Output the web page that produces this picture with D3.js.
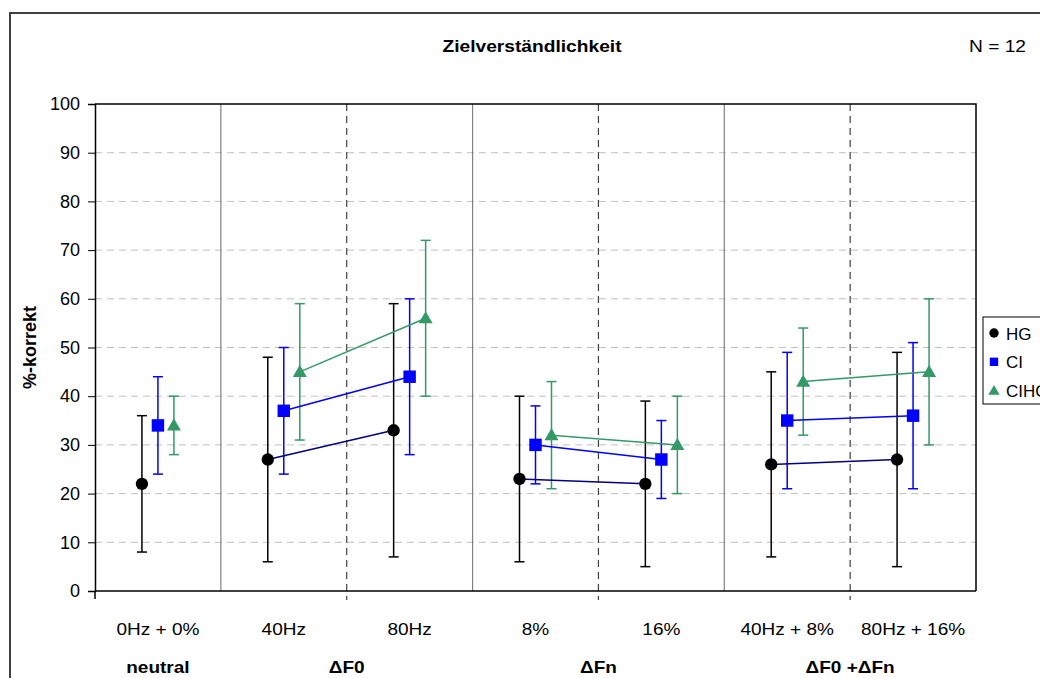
<!DOCTYPE html>
<html>
<head>
<meta charset="utf-8">
<script src="https://cdn.jsdelivr.net/npm/d3@7"></script>
<style>
  body { margin: 0; background: #fff; }
  svg { font-family: "Liberation Sans", Arial, sans-serif; }
</style>
</head>
<body>
<svg id="chart" width="1040" height="678"></svg>
<script>
// categories and group labels
const categories = ["0Hz + 0%", "40Hz", "80Hz", "8%", "16%", "40Hz + 8%", "80Hz + 16%"];
const groupNames = ["neutral", "\u0394F0", "\u0394Fn", "\u0394F0 +\u0394Fn"];
const groupMembers = [[0], [1, 2], [3, 4], [5, 6]];
const yTicks = [0, 10, 20, 30, 40, 50, 60, 70, 80, 90, 100];

// series values (mean, lower / upper end of error bar)
const seriesNames = ["HG", "CI", "CIHC"];
const hgMean = [22, 27, 33, 23, 22, 26, 27];
const hgLow  = [8, 6, 7, 6, 5, 7, 5];
const hgHigh = [36, 48, 59, 40, 39, 45, 49];
const ciMean = [34, 37, 44, 30, 27, 35, 36];
const ciLow  = [24, 24, 28, 22, 19, 21, 21];
const ciHigh = [44, 50, 60, 38, 35, 49, 51];
const cihcMean = [34, 45, 56, 32, 30, 43, 45];
const cihcLow  = [28, 31, 40, 21, 20, 32, 30];
const cihcHigh = [40, 59, 72, 43, 40, 54, 60];

const series = [
  {name: "HG", mean: hgMean, low: hgLow, high: hgHigh, color: "#000000", line: "#000080", bar: "#000000", shape: "circle"},
  {name: "CI", mean: ciMean, low: ciLow, high: ciHigh, color: "#0000ff", line: "#0000ff", bar: "#0000ff", shape: "square"},
  {name: "CIHC", mean: cihcMean, low: cihcLow, high: cihcHigh, color: "#339966", line: "#339966", bar: "#339966", shape: "triangle"}
];

const svg = d3.select("#chart");
const pLeft = 95, pRight = 976, pTop = 104, pBottom = 591;

const x = d3.scaleBand().domain(d3.range(categories.length)).range([pLeft, pRight]).padding(0);
const bw = x.bandwidth();
const cx = i => x(i) + bw / 2;
const off = d3.scalePoint().domain(seriesNames).range([-16, 16]);
const y = d3.scaleLinear().domain([0, 100]).range([pBottom, pTop]);

// outer frame
svg.append("rect")
  .attr("x", 10).attr("y", 13).attr("width", 1040).attr("height", 700)
  .attr("fill", "none").attr("stroke", "#404040").attr("stroke-width", 2);

// title (the original text is drawn a bit wide)
svg.append("text").attr("transform", "translate(532,52) scale(1.2,1)")
  .attr("text-anchor", "middle").attr("font-size", 16).attr("font-weight", "bold")
  .text("Zielverständlichkeit");
svg.append("text").attr("transform", "translate(1026,52) scale(1.2,1)")
  .attr("text-anchor", "end").attr("font-size", 16)
  .text("N = 12");

// gridlines
svg.append("g").selectAll("line")
  .data(yTicks.filter(t => t > 0 && t < 100))
  .join("line")
  .attr("x1", pLeft).attr("x2", pRight)
  .attr("y1", d => y(d)).attr("y2", d => y(d))
  .attr("stroke", "#c0c0c0").attr("stroke-dasharray", "7,5");

// group separators (solid) and sub-category separators (dashed)
const solidSeps = [1, 3, 5];
const dashSeps = [2, 4, 6];
svg.append("g").selectAll("line")
  .data(solidSeps).join("line")
  .attr("x1", d => x(d)).attr("x2", d => x(d))
  .attr("y1", pTop).attr("y2", pBottom)
  .attr("stroke", "#808080").attr("stroke-width", 1.2);
svg.append("g").selectAll("line")
  .data(dashSeps).join("line")
  .attr("x1", d => x(d)).attr("x2", d => x(d))
  .attr("y1", pTop).attr("y2", pBottom + 9)
  .attr("stroke", "#404040").attr("stroke-width", 1.2)
  .attr("stroke-dasharray", "7,5");

// plot border top/right
svg.append("path")
  .attr("d", `M${pLeft},${pTop}H${pRight}V${pBottom}`)
  .attr("fill", "none").attr("stroke", "#000").attr("stroke-width", 1.5);

// y axis
const yAxis = svg.append("g")
  .attr("transform", `translate(${pLeft},0)`)
  .call(d3.axisLeft(y).tickValues(yTicks).tickSize(7).tickPadding(8));
yAxis.select(".domain").attr("stroke", "#000").attr("stroke-width", 1.5);
yAxis.selectAll("text").attr("font-size", 18).attr("font-family", "Liberation Sans, Arial, sans-serif").attr("fill", "#000");

svg.append("text")
  .attr("transform", `translate(36,${(pTop + pBottom) / 2}) rotate(-90)`)
  .attr("text-anchor", "middle").attr("font-size", 18).attr("font-weight", "bold")
  .text("%-korrekt");

// x axis line + ticks
svg.append("line").attr("x1", pLeft).attr("x2", pRight)
  .attr("y1", pBottom).attr("y2", pBottom)
  .attr("stroke", "#000").attr("stroke-width", 1.5);
svg.append("line").attr("x1", pLeft).attr("x2", pLeft)
  .attr("y1", pBottom).attr("y2", pBottom + 8)
  .attr("stroke", "#000").attr("stroke-width", 1.5);

// category labels
svg.append("g").selectAll("text")
  .data(categories).join("text")
  .attr("transform", (d, i) => `translate(${cx(i)},635) scale(1.12,1)`)
  .attr("text-anchor", "middle").attr("font-size", 17)
  .text(d => d);

// group labels
svg.append("g").selectAll("text")
  .data(groupNames).join("text")
  .attr("transform", (d, i) => `translate(${d3.mean(groupMembers[i], j => cx(j))},673) scale(1.12,1)`)
  .attr("text-anchor", "middle").attr("font-size", 17).attr("font-weight", "bold")
  .text(d => d);

// error bars
series.forEach(s => {
  const g = svg.append("g").attr("stroke", s.bar).attr("stroke-width", 1.5);
  categories.forEach((c, i) => {
    const px = cx(i) + off(s.name);
    g.append("line").attr("x1", px).attr("x2", px).attr("y1", y(s.low[i])).attr("y2", y(s.high[i]));
    g.append("line").attr("x1", px - 5).attr("x2", px + 5).attr("y1", y(s.low[i])).attr("y2", y(s.low[i]));
    g.append("line").attr("x1", px - 5).attr("x2", px + 5).attr("y1", y(s.high[i])).attr("y2", y(s.high[i]));
  });
});

// connecting lines within groups
const line = d3.line();
series.forEach(s => {
  groupMembers.filter(m => m.length > 1).forEach(m => {
    svg.append("path")
      .attr("d", line(m.map(i => [cx(i) + off(s.name), y(s.mean[i])])))
      .attr("fill", "none").attr("stroke", s.line).attr("stroke-width", 1.5);
  });
});

// markers
const symbolOf = {circle: d3.symbolCircle, square: d3.symbolSquare, triangle: d3.symbolTriangle};
const sizeOf = {circle: 120, square: 155, triangle: 85};
series.forEach(s => {
  svg.append("g").selectAll("path")
    .data(s.mean).join("path")
    .attr("transform", (d, i) => `translate(${cx(i) + off(s.name)},${y(d) + (s.shape === "triangle" ? 1 : 0)})`)
    .attr("d", d3.symbol(symbolOf[s.shape], sizeOf[s.shape]))
    .attr("fill", s.color);
});

// legend
const lg = svg.append("g").attr("transform", "translate(983,317)");
lg.append("rect").attr("width", 80).attr("height", 87)
  .attr("fill", "#fff").attr("stroke", "#000").attr("stroke-width", 1);
series.forEach((s, i) => {
  const ly = 16 + i * 28.8;
  lg.append("path").attr("transform", `translate(11,${ly + (s.shape === "triangle" ? 1 : 0)})`)
    .attr("d", d3.symbol(symbolOf[s.shape], s.shape === "circle" ? 70 : (s.shape === "square" ? 70 : 55)))
    .attr("fill", s.color);
  lg.append("text").attr("x", 23).attr("y", ly + 6.5).attr("font-size", 17).text(s.name);
});
</script>
</body>
</html>
